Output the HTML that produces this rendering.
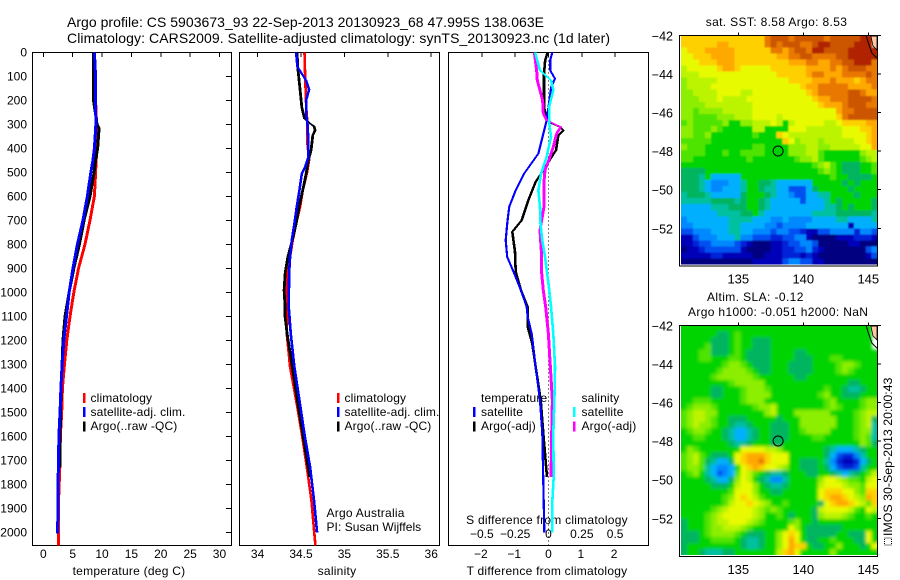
<!DOCTYPE html>
<html>
<head>
<meta charset="utf-8">
<title>Argo profile</title>
<style>
html,body{margin:0;padding:0;background:#fff;width:900px;height:580px;overflow:hidden}
svg{display:block}
text{font-family:"Liberation Sans",sans-serif;font-size:12px;fill:#000;letter-spacing:.25px}
</style>
</head>
<body>
<svg id="chart" xmlns="http://www.w3.org/2000/svg" width="900" height="580" viewBox="0 0 900 580">
<defs>
<filter id="blurSst" x="-5%" y="-5%" width="110%" height="110%"><feGaussianBlur stdDeviation="0.9"/></filter>
<filter id="blurSla" x="-5%" y="-5%" width="110%" height="110%"><feGaussianBlur stdDeviation="1.7"/></filter>
</defs>
<text x="67" y="27" textLength="477" lengthAdjust="spacing" style="font-size:14px;letter-spacing:0">Argo profile: CS 5903673_93 22-Sep-2013 20130923_68 47.995S 138.063E</text>
<text x="67" y="43" textLength="543" lengthAdjust="spacing" style="font-size:14px;letter-spacing:0">Climatology: CARS2009. Satellite-adjusted climatology: synTS_20130923.nc (1d later)</text>
<text x="129" y="575" text-anchor="middle">temperature (deg C)</text>
<text x="337" y="575" text-anchor="middle">salinity</text>
<text x="547" y="575" text-anchor="middle">T difference from climatology</text>
<text x="547" y="524" text-anchor="middle">S difference from climatology</text>
<text x="326.5" y="517">Argo Australia</text>
<text x="326.5" y="531" style="letter-spacing:.05px">PI: Susan Wijffels</text>
<text x="776.5" y="26" text-anchor="middle" style="letter-spacing:.35px">sat. SST: 8.58 Argo: 8.53</text>
<text x="707" y="301" style="letter-spacing:.4px">Altim. SLA: -0.12</text>
<text x="688" y="316" style="letter-spacing:.35px">Argo h1000: -0.051 h2000: NaN</text>
<rect x="884.5" y="538" width="7" height="7" fill="none" stroke="#000" stroke-width="1" stroke-dasharray="1 1"/>
<text transform="translate(892,536) rotate(-90)" style="font-size:12.4px;letter-spacing:0">IMOS 30-Sep-2013 20:00:43</text>
<g id="plots"></g>
</svg>
<script>
// ---------- profile panel data ----------
const tempTicks = [0, 5, 10, 15, 20, 25, 30];
const salTicks = ["34", "34.5", "35", "35.5", "36"];
const tDiffTicks = [-2, -1, 0, 1, 2];
const sDiffTicks = ["-0.5", "-0.25", "0", "0.25", "0.5"];
const depthTicks = [0, 100, 200, 300, 400, 500, 600, 700, 800, 900, 1000, 1100, 1200, 1300, 1400, 1500, 1600, 1700, 1800, 1900, 2000];

const tempClimDepth = [0, 200, 320, 400, 500, 600, 700, 800, 900, 1000, 1100, 1200, 1300, 1400, 1500, 1600, 1700, 1800, 1900, 2054];
const tempClim = [8.7, 8.9, 9.1, 9.1, 8.9, 8.7, 7.95, 7.1, 6.0, 5.2, 4.55, 4.0, 3.6, 3.25, 3.13, 2.9, 2.85, 2.7, 2.55, 2.55];
const tempSatDepth = [0, 100, 200, 300, 400, 450, 500, 600, 700, 800, 900, 1000, 1100, 1200, 1300, 1400, 1500, 1600, 1700, 1800, 2005];
const tempSat = [8.7, 8.9, 8.9, 8.95, 8.7, 8.45, 8.1, 7.5, 6.75, 5.8, 5.05, 4.4, 3.95, 3.5, 3.2, 3.0, 2.85, 2.65, 2.6, 2.5, 2.45];
const tempArgoDepth = [0, 200, 300, 315, 400, 450, 500, 600, 700, 800, 900, 1000, 1100, 1200, 1300, 1400, 1500, 1600, 1730];
const tempArgo = [8.55, 8.55, 9.15, 9.5, 9.25, 8.9, 8.65, 7.95, 6.95, 6.15, 5.2, 4.4, 3.7, 3.35, 3.2, 3.0, 2.95, 2.85, 2.8];

const salClimDepth = [0, 89, 228, 297, 380, 450, 506, 575, 644, 714, 783, 853, 922, 992, 1061, 1172, 1241, 1311, 1450, 1589, 1728, 1867, 2006, 2054];
const salClim = [34.54, 34.547, 34.56, 34.574, 34.574, 34.593, 34.567, 34.52, 34.49, 34.444, 34.405, 34.374, 34.348, 34.336, 34.343, 34.336, 34.355, 34.374, 34.444, 34.509, 34.567, 34.62, 34.654, 34.666];
const salSatDepth = [0, 60, 89, 117, 155, 200, 270, 297, 367, 436, 478, 506, 575, 644, 714, 783, 853, 922, 1061, 1172, 1311, 1450, 1589, 1728, 1867, 2000];
const salSat = [34.444, 34.459, 34.509, 34.559, 34.593, 34.559, 34.563, 34.574, 34.585, 34.585, 34.547, 34.509, 34.482, 34.451, 34.424, 34.394, 34.374, 34.363, 34.359, 34.382, 34.424, 34.482, 34.539, 34.605, 34.65, 34.685];
const salArgoDepth = [0, 60, 89, 158, 228, 276, 297, 308, 325, 346, 408, 450, 506, 575, 644, 714, 783, 853, 922, 992, 1061, 1103, 1172, 1311, 1450, 1589, 1770];
const salArgo = [34.455, 34.462, 34.47, 34.49, 34.509, 34.54, 34.605, 34.65, 34.662, 34.636, 34.616, 34.585, 34.559, 34.52, 34.478, 34.444, 34.40, 34.348, 34.317, 34.305, 34.317, 34.317, 34.34, 34.40, 34.458, 34.52, 34.6];

const dtSatDepth = [0, 33, 75, 110, 145, 214, 283, 367, 422, 506, 575, 644, 714, 783, 853, 922, 992, 1061, 1103, 1172, 1311, 1450, 1589, 2000];
const dtSat = [0.115, 0.05, 0.05, 0.195, 0.08, 0.015, -0.055, -0.205, -0.305, -0.735, -0.985, -1.18, -1.24, -1.285, -1.24, -1.027, -0.826, -0.655, -0.625, -0.505, -0.385, -0.255, -0.186, -0.125];
const dtArgoDepth = [0, 33, 89, 228, 276, 297, 311, 325, 346, 408, 436, 491, 540, 617, 700, 748, 831, 914, 992, 1061, 1144, 1214, 1311, 1450, 1589, 1770];
const dtArgo = [-0.025, -0.1, -0.135, -0.135, -0.055, 0.096, 0.345, 0.445, 0.295, 0.225, 0.096, -0.156, -0.385, -0.607, -0.805, -1.087, -1.006, -0.985, -0.826, -0.625, -0.625, -0.486, -0.385, -0.234, -0.156, -0.045];
const dsSatDepth = [0, 75, 117, 158, 228, 297, 352, 436, 506, 575, 644, 714, 783, 853, 922, 992, 1061, 1172, 1311, 1450, 1589, 1770, 1867, 2000];
const dsSat = [-0.101, -0.064, 0.019, 0.036, 0.004, 0.006, 0.019, -0.014, -0.056, -0.076, -0.064, -0.06, -0.047, -0.026, -0.01, 0.006, 0.019, 0.036, 0.049, 0.044, 0.036, 0.039, 0.029, 0.029];
const dsArgoDepth = [0, 75, 117, 200, 255, 283, 297, 311, 339, 394, 436, 491, 540, 644, 741, 853, 922, 992, 1061, 1172, 1311, 1450, 1589, 1770];
const dsArgo = [-0.106, -0.089, -0.084, -0.044, -0.039, -0.014, 0.036, 0.091, 0.061, 0.036, 0.011, -0.026, -0.034, -0.034, -0.064, -0.051, -0.051, -0.039, -0.021, -0.001, 0.014, 0.029, 0.024, 0.019];

// ---------- map data (colour-class cells, north to south) ----------
const lonTicks = [135, 140, 145];
const latTicks = [-42, -44, -46, -48, -50, -52];
const profileLon = 138.063;
const profileLat = -47.995;
const coastLon = [144.82, 145.05, 145.28, 145.67];
const coastLat = [-42.0, -42.5, -42.92, -43.18];
const landLon = [145.2, 145.36, 145.67, 145.67];
const landLat = [-42.04, -42.55, -42.76, -42.04];

const sstRows = [
"ddddddddddddddfgggfgggggfggggghhi",
"ddddddeeddddddfgfgggffghhgggghhhi",
"cdddeeeeeddddddffefggfhhgggghhhhh",
"ccdddeeeedddddddeeffggffffgghhhhh",
"cccdddeeedddddddddeeeffeeffgghhhf",
"bcccccdeedcccccddddddeeeefefgggff",
"bbbcccccccccccccdddddeffeeeffffgf",
"abbbbbccccccccccccddddeeefeeedeff",
"abbbbcccccccccccccccdeefffffeeeef",
"aabbbbccccbbcccccccccdefffffggfee",
"aaabbbcbbbbcccccccccccdeefffggggf",
"aaaabbbbbbbbcccccccccccdeeefgggff",
"aa9aaaabbbbbcccccccccccccceffgggg",
"aa9999aaabbbccccbcccccccccdfggggg",
"9a99999a88aabbbcb8bcccccbbcddddee",
"aa999a988888bb8888cccbbbbbbcccdde",
"aa99a88888889888dcbbbbbbbbbccccde",
"99999888888888888dcabbbabbbbbccde",
"a99988888888998888aaabbaabbbbbcce",
"999988898899998888aaabb9888888abb",
"99888888888988888889aab98888889ab",
"88888888888888888888889ab98777889",
"777788888888888888888889a98777889",
"777685555588888888888888898877778",
"777654445568877655555588888787888",
"777654455568876655333578888878888",
"677765555578887655433556688887888",
"666667777678876555553555687888887",
"555556667778876555555555667878887",
"555555666677865555555566667777776",
"455555556666555445444455556655556",
"445555556655554434444555555515555",
"334445556655444344332113344442443",
"113444555644333223344100001112221",
"112334444321000112334430000011000",
"011233333310000112233421000000034",
"111112211111001112221210000000013",
"000000000000111113443311000000000"
];
const slaRows = [
"88888888888888888888888888888888i",
"88888877898888888888888888888888i",
"88888777898877788888888888888888i",
"88889777898877788888888888888888i",
"888997778987777888877888888888888",
"888998889987777888877788899888888",
"88888889aa98777888777788889aa9888",
"8888889aaaa9877888777788889a98888",
"888889aaaaaa988888877888888888888",
"888888889aaaaa8888888888888877888",
"88888778889aaa9888888888988766788",
"88888778889aaaa888888889a88777888",
"88999888889aaa88888888889a88889aa",
"89aaa98888889aab888888889a98889aa",
"9abbaa88888888ab888aaaaaa88889abb",
"9abba988777888887888aaaaaa8889ab7",
"9abaa988766788877788aaaaaa8889ab6",
"89aa98876556788777889aaaa88889aa6",
"889988876556788777888899888889a96",
"888888887667888778888888888888a97",
"8a98888888ccccbba8888888765556788",
"9ab987778cdeeedccc888888753224688",
"9ab976557cdeefdccc887778642112578",
"9aa9654458cdedccba887778753223688",
"89a86534 59cb98766788877887656789b".replace(" ", ""),
"8888765 57acb8764468888 8accba998bc".replace(/ /g, ""),
"88888777 8bcca8766788888bcccbaa9cc".replace(" ", ""),
"888888889ccca8877888888cdddcca9dd",
"88888889acdcb9888888888cdeedcbaed",
"88888889bccdcba889888887cdeedcb9dc",
"888889abccccba9a9888887bccccb98cb",
"88889abcccccba889878887abbba98898",
"78889abbcccba988889a8878888888888",
"78889aabbba9888888ca8777777888888",
"77789aaaa98777 88acdc87777788777c8".replace(" ", ""),
"7778899998766788acec87788988877c8",
"7888888888766788acedd87788a88878c8",
"7887666778888888bdec88888a8888888"
];

// ---------- styling ----------
const palette = {"0":"#000080","1":"#0000b8","2":"#0020d8","3":"#0050f0","4":"#0088ff","5":"#00b0ff","6":"#00c0a0","7":"#00b460","8":"#00d400","9":"#50e400","a":"#8cee00","b":"#bcf400","c":"#e8fa00","d":"#ffd000","e":"#ffa800","f":"#e87800","g":"#cc5500","h":"#b02000","i":"#ffc8a0"};
const SVGNS = "http://www.w3.org/2000/svg";
const root = document.getElementById("plots");

function mk(tag, attrs, parent, txt) {
  const el = document.createElementNS(SVGNS, tag);
  for (const k in attrs) el.setAttribute(k, attrs[k]);
  if (txt !== undefined) el.textContent = txt;
  (parent || root).appendChild(el);
  return el;
}

// ---------- axis functions ----------
const yDepth = d => 52.3 + d * 0.24;
const xTemp = v => 43.3 + v * 5.873;
const xSal = v => 257.6 + (v - 34) * 86.8;
const xDT = v => 548.5 + v * 33.3;
const xDS = v => 548.5 + v * 133.3;
const xLon = v => 738.3 + (v - 135) * 13;
const yLat1 = v => 35.3 + (-42 - v) * 19.3;
const yLat2 = v => 325.3 + (-42 - v) * 19.3;

function axesBox(x0, x1, y0, y1, name) {
  const el = mk("rect", {x: x0, y: y0, width: x1 - x0, height: y1 - y0, fill: "none", stroke: "#000", "stroke-width": 1, "shape-rendering": "crispEdges"});
  
  
}
function tickMark(x1, y1, x2, y2, name) {
  const el = mk("line", {x1: x1, y1: y1, x2: x2, y2: y2, stroke: "#000", "stroke-width": 1, "shape-rendering": "crispEdges"});
  
  
}
function label(x, y, s, anchor, name, size, spacing) {
  const el = mk("text", {x: x, y: y, "text-anchor": anchor || "start"}, root, s);
  if (size) el.style.fontSize = size + "px";
  if (spacing !== undefined) el.style.letterSpacing = spacing + "px";
  
  
}
const minusText = s => String(s).replace("-", "\u2212");
// lines are drawn with a pen wider than tall, like the source raster renderer
function series(xFn, depths, vals, color, name, hw) {
  const g = mk("g", {transform: "scale(" + hw + ",1)"});
  
  
  const pts = depths.map((d, i) => (xFn(vals[i]) / hw).toFixed(3) + "," + yDepth(d).toFixed(2)).join(" ");
  mk("polyline", {points: pts, fill: "none", stroke: color, "stroke-width": 1, "stroke-linejoin": "miter", "shape-rendering": "crispEdges"}, g);
}
function legendKey(x, y, color, name) {
  const el = mk("rect", {x: x, y: y, width: 2.5, height: 10, fill: color, "shape-rendering": "crispEdges"});
  
  
}

// ---------- panel 1: temperature ----------
axesBox(32.5, 231.5, 52.5, 545.5, "temperature-axes");
tempTicks.forEach(t => {
  tickMark(xTemp(t), 52.5, xTemp(t), 57, "temperature-top-tick");
  label(xTemp(t), 558, String(t), "middle", "temperature-tick-label", 12, 0);
});
depthTicks.forEach(d => {
  tickMark(226, yDepth(d), 231.5, yDepth(d), "depth-right-tick");
  label(27, yDepth(d) + 4, String(d), "end", "depth-tick-label", 12, 0);
});
series(xTemp, tempClimDepth, tempClim, "#ff0000", "temperature-climatology-line", 3);
series(xTemp, tempArgoDepth, tempArgo, "#000000", "temperature-argo-line", 3);
series(xTemp, tempSatDepth, tempSat, "#0000ff", "temperature-satellite-line", 3);
legendKey(83, 393, "#ff0000", "legend-key-climatology");
legendKey(83, 407, "#0000ff", "legend-key-satellite");
legendKey(83, 421.5, "#000000", "legend-key-argo");
label(90.5, 402, "climatology", "start", "legend-label-climatology", 12, 0.15);
label(90.5, 416, "satellite-adj. clim.", "start", "legend-label-satellite", 12, 0.15);
label(90.5, 430, "Argo(..raw -QC)", "start", "legend-label-argo", 12, 0.15);

// ---------- panel 2: salinity ----------
axesBox(239.5, 439.5, 52.5, 545.5, "salinity-axes");
salTicks.forEach(t => {
  const x = xSal(parseFloat(t));
  tickMark(x, 52.5, x, 57, "salinity-top-tick");
  label(x, 558, t, "middle", "salinity-tick-label", 12, 0);
});
series(xSal, salClimDepth, salClim, "#ff0000", "salinity-climatology-line", 2.6);
series(xSal, salArgoDepth, salArgo, "#000000", "salinity-argo-line", 2.8);
series(xSal, salSatDepth, salSat, "#0000ff", "salinity-satellite-line", 2.6);
legendKey(337, 393, "#ff0000", "legend-key-climatology-2");
legendKey(337, 407, "#0000ff", "legend-key-satellite-2");
legendKey(337, 421.5, "#000000", "legend-key-argo-2");
label(344.5, 402, "climatology", "start", "legend-label-climatology-2", 12, 0.15);
label(344.5, 416, "satellite-adj. clim.", "start", "legend-label-satellite-2", 12, 0.15);
label(344.5, 430, "Argo(..raw -QC)", "start", "legend-label-argo-2", 12, 0.15);

// ---------- panel 3: differences ----------
axesBox(448.5, 648.5, 52.5, 545.5, "difference-axes");
tDiffTicks.forEach(t => {
  tickMark(xDT(t), 52.5, xDT(t), 57, "t-difference-top-tick");
  label(xDT(t) - (t === 0 ? 0 : 1), 558, minusText(t), "middle", "t-difference-tick-label", 12, 0);
});
sDiffTicks.forEach(t => {
  label(xDS(parseFloat(t)), 538, minusText(t), "middle", "s-difference-tick-label", 12, 0);
});
const zeroLine = mk("line", {x1: 548.5, y1: 52.5, x2: 548.5, y2: 545, stroke: "#000", "stroke-width": 1, "stroke-dasharray": "1 3", "shape-rendering": "crispEdges"});


series(xDT, dtArgoDepth, dtArgo, "#000000", "t-difference-argo-line", 2.6);
series(xDT, dtSatDepth, dtSat, "#0000ff", "t-difference-satellite-line", 2.2);
series(xDS, dsArgoDepth, dsArgo, "#ff00ff", "s-difference-argo-line", 3);
series(xDS, dsSatDepth, dsSat, "#00ffff", "s-difference-satellite-line", 2.6);
legendKey(473, 407, "#0000ff", "legend-key-t-satellite");
legendKey(473, 421.5, "#000000", "legend-key-t-argo");
legendKey(573, 407, "#00ffff", "legend-key-s-satellite");
legendKey(573, 421.5, "#ff00ff", "legend-key-s-argo");
label(481, 402, "temperature", "start", "legend-heading-temperature", 12, 0.15);
label(481, 416, "satellite", "start", "legend-label-t-satellite", 12, 0.15);
label(481, 430, "Argo(-adj)", "start", "legend-label-t-argo", 12, 0.15);
label(581.5, 402, "salinity", "start", "legend-heading-salinity", 12, 0.15);
label(581.5, 416, "satellite", "start", "legend-label-s-satellite", 12, 0.15);
label(581.5, 430, "Argo(-adj)", "start", "legend-label-s-argo", 12, 0.15);

// ---------- maps ----------
function drawMap(rows, yLat, top, bottom, name, filterId) {
  const left = 681, right = 877.7;
  const colW = (right - left) / 33;
  const rowH = (bottom - 1.5 - top) / rows.length;
  const clipId = name + "-clip";
  const clip = mk("clipPath", {id: clipId}, root);
  mk("rect", {x: left, y: top, width: right - left, height: bottom - 1.5 - top}, clip);
  const wrap = mk("g", {"clip-path": "url(#" + clipId + ")"});
  
  
  const g = mk("g", {filter: "url(#" + filterId + ")", "shape-rendering": "crispEdges"}, wrap);
  
  
  const bleed = 10; // edge cells extend past the clip so smoothing keeps the border colours
  rows.forEach((row, r) => {
    for (let c = 0; c < 33; c++) {
      const k = row[c] || row[row.length - 1];
      if (k === "i") continue;
      const x = left + c * colW - (c === 0 ? bleed : 0);
      const y = top + r * rowH - (r === 0 ? bleed : 0);
      const w = colW + 0.4 + (c === 0 || c === 32 ? bleed : 0);
      const h = rowH + 0.4 + (r === 0 || r === rows.length - 1 ? bleed : 0);
      mk("rect", {x: x.toFixed(2), y: y.toFixed(2), width: w.toFixed(2), height: h.toFixed(2), fill: palette[k]}, g);
    }
  });
  const land = mk("polygon", {points: landLon.map((v, i) => xLon(v).toFixed(1) + "," + yLat(landLat[i]).toFixed(1)).join(" "), fill: palette.i, stroke: "#000", "stroke-width": 0.8});
  
  
  const coast = mk("polyline", {points: coastLon.map((v, i) => xLon(v).toFixed(1) + "," + yLat(coastLat[i]).toFixed(1)).join(" "), fill: "none", stroke: "#000", "stroke-width": 1});
  
  
  axesBox(679.5, 877.5, top, bottom, name + "-axes");
  lonTicks.forEach(t => {
    tickMark(xLon(t), top - 3, xLon(t), top, name + "-lon-tick");
    label(xLon(t), bottom + 17.5, String(t), "middle", name + "-lon-label", 13, 0);
  });
  latTicks.forEach(t => {
    tickMark(877.5, yLat(t), 881, yLat(t), name + "-lat-tick");
    label(673, yLat(t) + 5, minusText(t), "end", name + "-lat-label", 12.5, 0);
  });
  const marker = mk("circle", {cx: xLon(profileLon), cy: yLat(profileLat), r: 5, fill: "none", stroke: "#000", "stroke-width": 1});
  
  
}
drawMap(sstRows, yLat1, 35.5, 266, "sst-map", "blurSst");
drawMap(slaRows, yLat2, 325.5, 556.5, "sla-map", "blurSla");
</script>
</body>
</html>
